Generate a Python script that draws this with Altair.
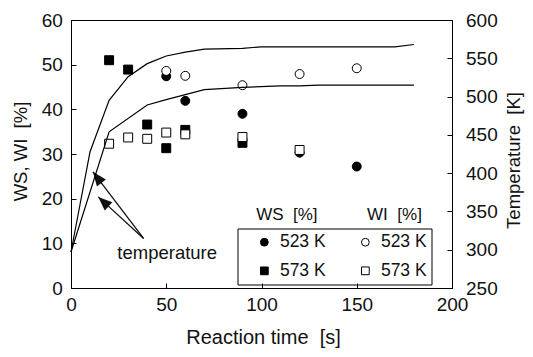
import math
import altair as alt
import pandas as pd

# ---------------- data ----------------
ws523_t = [50, 60, 90, 120, 150]
ws523_v = [47.4, 41.9, 39.0, 30.3, 27.2]
wi523_t = [50, 60, 90, 120, 150]
wi523_v = [48.6, 47.5, 45.4, 47.9, 49.2]
ws573_t = [20, 30, 40, 50, 60, 90]
ws573_v = [51.0, 48.9, 36.6, 31.3, 35.4, 32.5]
wi573_t = [20, 30, 40, 50, 60, 90, 120]
wi573_v = [32.3, 33.7, 33.4, 34.8, 34.4, 33.8, 30.9]

temp573_t = [0, 10, 20, 30, 40, 50, 60, 70, 90, 100, 170, 180]
temp573_v = [297, 428, 495, 526, 543, 553, 558, 562, 563, 565, 565, 568]
temp523_t = [0, 20, 40, 50, 70, 90, 110, 120, 130, 180]
temp523_v = [297, 454, 489, 496, 509, 512, 514, 514, 515, 515]

x_ticks = [0, 50, 100, 150, 200]
y_ticks = [0, 10, 20, 30, 40, 50, 60]
t_ticks = [250, 300, 350, 400, 450, 500, 550, 600]

# legend order (filled column-wise: WS column, then WI column)
series_order = ["WS 523 K", "WS 573 K", "WI 523 K", "WI 573 K"]
series_shape = ["circle", "square", "circle", "square"]
series_fill = ["black", "black", "white", "white"]

# annotation: arrows labelled "temperature"
arrow_tail = (38.1, 11.1)
arrow_tips_x = [11.5, 14.3]
arrow_tips_y = [26.0, 20.4]
annot_label = "temperature"
annot_pos = (50.5, 7.8)
headers = ["WS\u00a0\u00a0[%]", "WI\u00a0\u00a0[%]"]
headers_x = [113.3, 169.8]
headers_y = [16.3, 16.3]

# ---------------- layout ----------------
W, H = 381, 268
FONT = "Liberation Sans"
X_DOM = [0, 200]
Y_DOM = [0, 60]
T_DOM = [250, 600]

# ---------------- tables ----------------
pts = pd.concat([
    pd.DataFrame({"t": ws523_t, "v": ws523_v, "series": "WS 523 K"}),
    pd.DataFrame({"t": ws573_t, "v": ws573_v, "series": "WS 573 K"}),
    pd.DataFrame({"t": wi523_t, "v": wi523_v, "series": "WI 523 K"}),
    pd.DataFrame({"t": wi573_t, "v": wi573_v, "series": "WI 573 K"}),
], ignore_index=True)

temps = pd.concat([
    pd.DataFrame({"t": temp523_t, "T": temp523_v, "run": "523 K"}),
    pd.DataFrame({"t": temp573_t, "T": temp573_v, "run": "573 K"}),
], ignore_index=True)

sx = W / (X_DOM[1] - X_DOM[0])
sy = H / (Y_DOM[1] - Y_DOM[0])
angles = []
for tx, ty in zip(arrow_tips_x, arrow_tips_y):
    dx = (tx - arrow_tail[0]) * sx
    dy = -(ty - arrow_tail[1]) * sy
    angles.append(math.degrees(math.atan2(dx, -dy)) % 360)

shafts = pd.DataFrame({
    "x": [arrow_tail[0]] * len(arrow_tips_x), "y": [arrow_tail[1]] * len(arrow_tips_x),
    "x2": arrow_tips_x, "y2": arrow_tips_y,
})
heads = pd.DataFrame({"x": arrow_tips_x, "y": arrow_tips_y, "angle": angles})
annot = pd.DataFrame({"x": [annot_pos[0]] + headers_x,
                      "y": [annot_pos[1]] + headers_y,
                      "txt": [annot_label] + headers,
                      "fs": [18.5, 17, 17]})

# ---------------- axes ----------------
common_axis = dict(grid=False, domainColor="black", tickColor="black", labelColor="#111",
                   titleColor="#111", labelFont=FONT, titleFont=FONT, labelFontSize=19,
                   tickSize={"expr": "-5"}, labelFlush=False, labelOverlap=False,
                   titleFontWeight="normal", domainWidth=1, tickWidth=1)

x_axis = alt.Axis(values=x_ticks, title="Reaction time\u00a0\u00a0[s]", labelPadding=12.3,
                  titleFontSize=20, titleX=192, titleY=49.5, titleAlign="center",
                  titleBaseline="middle", **common_axis)
y_axis = alt.Axis(values=y_ticks, title="WS, WI\u00a0\u00a0[%]", labelPadding=13.7,
                  titleFontSize=18.5, titleAngle=270, titleX=-51, titleY=131,
                  titleAlign="center", titleBaseline="middle", **common_axis)
t_axis = alt.Axis(values=t_ticks, title="Temperature\u00a0\u00a0[K]", orient="right",
                  labelPadding=18.5, titleFontSize=18.5, titleAngle=270, titleX=61,
                  titleY=140, titleAlign="center", titleBaseline="middle", **common_axis)

X = lambda f: alt.X(f, type="quantitative", scale=alt.Scale(domain=X_DOM, nice=False, zero=False), axis=x_axis)
Y = lambda f: alt.Y(f, type="quantitative", scale=alt.Scale(domain=Y_DOM, nice=False, zero=False), axis=y_axis)

pad = "\u00a0" * 8
leg = alt.Legend(
    title=None, orient="none", legendX=166.5, legendY=208.5, columns=2,
    padding=4.6, symbolOffset=13.5, labelOffset=6.8, columnPadding=17, rowPadding=10,
    strokeColor="black", labelFont=FONT, labelFontSize=17.5, labelColor="#111",
    symbolSize=60, symbolStrokeWidth=1,
    labelExpr=f"slice(datum.label, 3) + (indexof(datum.label, 'WI') == 0 ? '{pad}' : '')",
)

points = alt.Chart(pts).mark_point(filled=True, strokeWidth=1, size=80, opacity=1).encode(
    x=X("t"), y=Y("v"),
    shape=alt.Shape("series:N", scale=alt.Scale(domain=series_order, range=series_shape), legend=leg),
    fill=alt.Fill("series:N", scale=alt.Scale(domain=series_order, range=series_fill), legend=leg),
    stroke=alt.Stroke("series:N", scale=alt.Scale(domain=series_order, range=["black"] * 4), legend=leg),
)

shaft_layer = alt.Chart(shafts).mark_rule(color="#111", strokeWidth=1.3).encode(
    x=X("x"), y=Y("y"), x2="x2:Q", y2="y2:Q")

head_layer = alt.Chart(heads).mark_point(
    shape="M0,0L-0.8,2L0.8,2Z", filled=True, color="#111", size=196, opacity=1
).encode(x=X("x"), y=Y("y"), angle=alt.Angle("angle:Q", scale=None))

text_layer = alt.Chart(annot).mark_text(font=FONT, color="#111", align="center",
                                        baseline="middle").encode(
    x=X("x"), y=Y("y"), text="txt:N", size=alt.Size("fs:Q", scale=None, legend=None))

left = alt.layer(points, shaft_layer, head_layer, text_layer)

lines = alt.Chart(temps).mark_line(color="black", strokeWidth=1.2).encode(
    x=X("t"),
    y=alt.Y("T:Q", scale=alt.Scale(domain=T_DOM, nice=False, zero=False), axis=t_axis),
    detail="run:N",
)

chart = alt.layer(left, lines).resolve_scale(y="independent").properties(
    width=W, height=H,
    autosize=alt.AutoSizeParams(type="none"),
    padding={"left": 63, "top": 12, "right": 73, "bottom": 61},
    background="white",
).configure(font=FONT).configure_view(stroke="black", strokeWidth=1)

chart.save("out.html", embed_options={"renderer": "svg", "actions": False})
